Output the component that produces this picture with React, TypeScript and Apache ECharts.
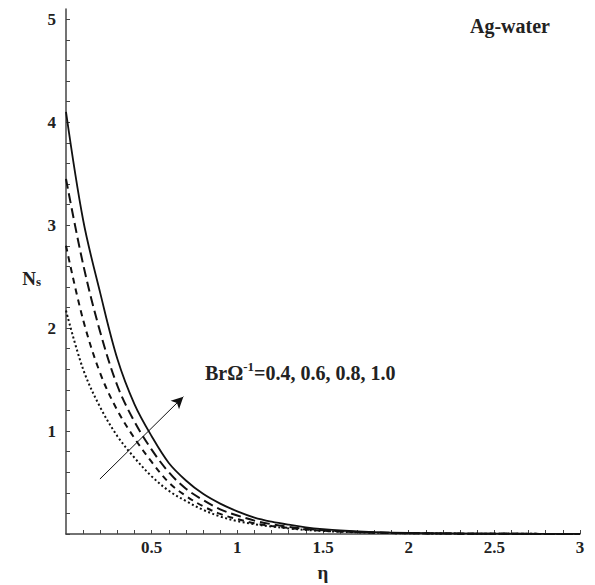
import React, { useEffect, useRef } from "react";
import * as echarts from "echarts";

const ETA = [0, 0.1, 0.2, 0.3, 0.4, 0.5, 0.6, 0.7, 0.8, 0.9, 1.0, 1.1, 1.2, 1.3, 1.4, 1.5, 1.6, 1.8, 2.0, 2.5, 3.0];
const NS_BR_10 = [4.1, 3.05, 2.34, 1.7, 1.26, 0.95, 0.69, 0.52, 0.39, 0.295, 0.22, 0.16, 0.12, 0.09, 0.065, 0.047, 0.034, 0.018, 0.01, 0.003, 0.001];
const NS_BR_08 = [3.45, 2.62, 1.96, 1.44, 1.09, 0.82, 0.6, 0.44, 0.33, 0.24, 0.18, 0.13, 0.095, 0.07, 0.05, 0.037, 0.027, 0.015, 0.008, 0.002, 0.001];
const NS_BR_06 = [2.8, 2.08, 1.56, 1.2, 0.93, 0.7, 0.5, 0.37, 0.27, 0.195, 0.145, 0.105, 0.078, 0.058, 0.043, 0.032, 0.024, 0.013, 0.007, 0.002, 0.001];
const NS_BR_04 = [2.17, 1.6, 1.23, 0.95, 0.74, 0.56, 0.42, 0.32, 0.235, 0.17, 0.125, 0.095, 0.072, 0.054, 0.04, 0.03, 0.022, 0.012, 0.007, 0.002, 0.001];

const ARROW_FROM = [0.198, 0.534];
const ARROW_TO = [0.685, 1.334];

const TITLE_TEXT = "Ag-water";
const LEGEND_VALUES = "=0.4, 0.6, 0.8, 1.0";

const FONT = "Liberation Serif";

function pairs(ys: number[]) {
  return ETA.map((x, i) => [x, ys[i]]);
}

const isMultiple = (v: number, step: number) => {
  const r = v / step;
  return Math.abs(r - Math.round(r)) < 1e-6;
};

export default function App() {
  const ref = useRef<HTMLDivElement>(null);
  useEffect(() => {
    if (!ref.current) return;
    const chart = echarts.init(ref.current, undefined, { renderer: "svg" });
    const lineBase = { type: "line", showSymbol: false, symbol: "none", silent: true, z: 3, smooth: 0.35 };
    chart.setOption({
      animation: false,
      backgroundColor: "#ffffff",
      grid: { left: 66, right: 15, top: 9, bottom: 51, containLabel: false, outerBoundsMode: "none" },
      xAxis: {
        type: "value",
        min: 0,
        max: 3,
        interval: 0.1,
        name: "η",
        nameLocation: "middle",
        nameGap: 29,
        nameTextStyle: { fontFamily: FONT, fontWeight: "bold", fontSize: 19, color: "#222" },
        axisLine: { show: true, lineStyle: { color: "#444", width: 1.5 } },
        axisTick: { show: true, inside: true, length: 4, lineStyle: { color: "#444", width: 1 } },
        splitLine: { show: false },
        axisLabel: {
          fontFamily: FONT,
          fontWeight: "bold",
          fontSize: 17,
          color: "#222",
          margin: 5,
          showMinLabel: false,
          formatter: (v: number) => (v > 0 && isMultiple(v, 0.5) ? String(+v.toFixed(1)) : ""),
        },
      },
      yAxis: {
        type: "value",
        min: 0,
        max: 5.1,
        interval: 0.2,
        name: "{n|N}{s|s}",
        nameLocation: "middle",
        nameRotate: 0,
        nameGap: 25,
        nameTextStyle: {
          fontFamily: FONT,
          fontWeight: "bold",
          color: "#222",
          padding: [12, 0, 0, 0],
          rich: {
            n: { fontFamily: FONT, fontWeight: "bold", fontSize: 19, color: "#222", verticalAlign: "bottom", lineHeight: 20 },
            s: { fontFamily: FONT, fontWeight: "bold", fontSize: 13, color: "#222", verticalAlign: "bottom", lineHeight: 20 },
          },
        },
        axisLine: { show: true, lineStyle: { color: "#444", width: 1.5 } },
        axisTick: { show: true, inside: true, length: 4, lineStyle: { color: "#444", width: 1 } },
        splitLine: { show: false },
        axisLabel: {
          fontFamily: FONT,
          fontWeight: "bold",
          fontSize: 17,
          color: "#222",
          margin: 10,
          showMaxLabel: false,
          formatter: (v: number) => (v > 0 && isMultiple(v, 1) ? String(Math.round(v)) : ""),
        },
      },
      series: [
        {
          ...lineBase,
          name: "0.4",
          data: pairs(NS_BR_04),
          lineStyle: { color: "#111", width: 2, type: [2, 2.5] },
        },
        {
          ...lineBase,
          name: "0.6",
          data: pairs(NS_BR_06),
          lineStyle: { color: "#111", width: 2, type: [6, 5] },
        },
        {
          ...lineBase,
          name: "0.8",
          data: pairs(NS_BR_08),
          lineStyle: { color: "#111", width: 2, type: [10, 5] },
        },
        {
          ...lineBase,
          name: "1.0",
          data: pairs(NS_BR_10),
          lineStyle: { color: "#111", width: 1.8, type: "solid" },
          markLine: {
            silent: true,
            symbol: ["none", "arrow"],
            symbolSize: [9, 12],
            label: { show: false },
            lineStyle: { color: "#111", width: 1, type: "solid" },
            data: [[{ coord: ARROW_FROM }, { coord: ARROW_TO }]],
          },
        },
      ],
      graphic: [
        {
          type: "text",
          left: 470,
          top: 16,
          style: {
            text: TITLE_TEXT,
            font: `bold 20px "${FONT}"`,
            fill: "#222",
          },
        },
        {
          type: "text",
          left: 205,
          top: 360,
          style: {
            text: "{m|BrΩ}{p|-1}{m|" + LEGEND_VALUES + "}",
            fill: "#222",
            rich: {
              m: { fontFamily: FONT, fontWeight: "bold", fontSize: 20, fill: "#222", lineHeight: 23, verticalAlign: "bottom" },
              p: { fontFamily: FONT, fontWeight: "bold", fontSize: 13, fill: "#222", lineHeight: 23, verticalAlign: "top" },
            },
          },
        },
      ],
    });
    return () => chart.dispose();
  }, []);
  return (
    <div
      ref={ref}
      style={{ position: "fixed", left: 0, top: 0, width: 595, height: 585, background: "#fff" }}
    />
  );
}
